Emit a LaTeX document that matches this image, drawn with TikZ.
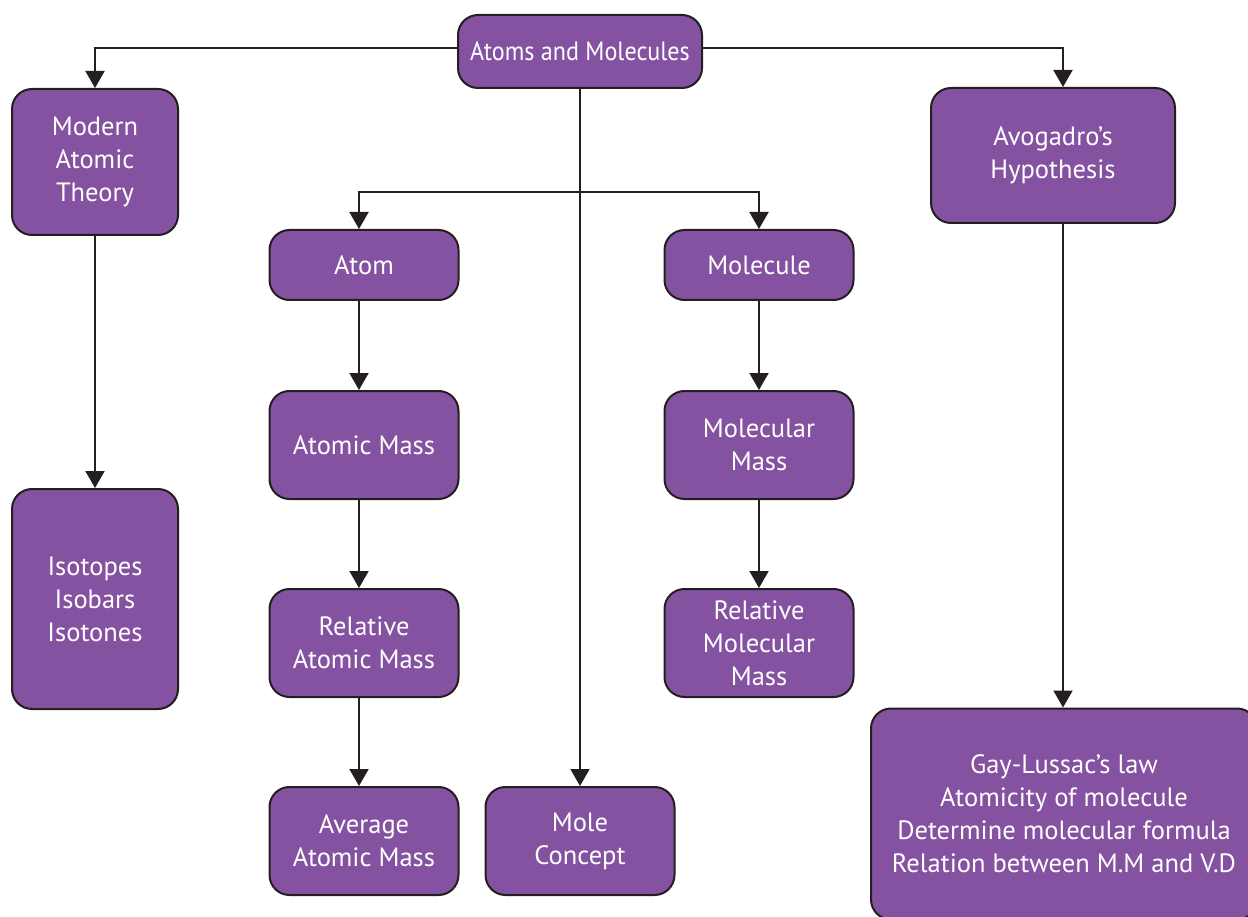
\documentclass[tikz,border=0pt]{standalone}
\usepackage{fontspec}
\usepackage{graphicx}
\setmainfont{PT Sans}
\usetikzlibrary{arrows.meta}
\definecolor{boxfill}{RGB}{133,82,161}
\definecolor{ink}{RGB}{35,31,32}
\begin{document}
\begin{tikzpicture}[x=1pt,y=-1pt,
  box/.style={draw=ink, line width=2pt, fill=boxfill, rounded corners=20pt,
    text=white, align=center, inner sep=0pt,
    font=\fontsize{26.5}{33}\selectfont},
  arr/.style={draw=ink, line width=2pt, -{Triangle[width=19pt,length=17pt]}}]
\useasboundingbox (0,0) rectangle (1248,917);
\begin{scope}
\clip (0,0) rectangle (1248,917);
\node[box, minimum width=244pt, minimum height=73pt] (top) at (580,51.5) {\scalebox{0.91}[1]{Atoms and Molecules}};
\node[box, minimum width=166pt, minimum height=146pt] (mat) at (95,162) {Modern\\Atomic\\Theory};
\node[box, minimum width=166pt, minimum height=220pt] (iso) at (95,599) {Isotopes\\Isobars\\Isotones};
\node[box, minimum width=244pt, minimum height=135pt] (avo) at (1053,155.5) {Avogadro’s\\Hypothesis};
\node[box, minimum width=386pt, minimum height=211pt] (gay) at (1064,814) {Gay-Lussac’s law\\Atomicity of molecule\\Determine molecular formula\\Relation between M.M and V.D};
\node[box, minimum width=189pt, minimum height=70pt] (atom) at (364,265) {Atom};
\node[box, minimum width=189pt, minimum height=108pt] (am) at (364,445) {Atomic Mass};
\node[box, minimum width=189pt, minimum height=108pt] (ram) at (364,643) {Relative\\Atomic Mass};
\node[box, minimum width=189pt, minimum height=108pt] (aam) at (364,841) {Average\\Atomic Mass};
\node[box, minimum width=189pt, minimum height=108pt] (mole) at (580,841) {Mole\\Concept};
\node[box, minimum width=189pt, minimum height=70pt] (mol) at (759,265) {Molecule};
\node[box, minimum width=189pt, minimum height=108pt] (mm) at (759,445) {Molecular\\Mass};
\node[box, minimum width=189pt, minimum height=108pt] (rmm) at (759,643) {Relative\\Molecular\\Mass};
\end{scope}
\coordinate (br) at (top.south |- 0,192);
\draw[arr] ([yshift=3pt]top.west) -| (mat.north);
\draw[arr] ([yshift=3pt]top.east) -| ([xshift=10pt]avo.north);
\draw[arr] (top.south) -- (mole.north);
\draw[arr] (br) -| ([xshift=-5pt]atom.north);
\draw[arr] (br) -| (mol.north);
\draw[arr] (mat.south) -- (iso.north);
\draw[arr] ([xshift=10pt]avo.south) -- ([xshift=10pt]avo.south |- gay.north);
\draw[arr] ([xshift=-5pt]atom.south) -- ([xshift=-5pt]am.north);
\draw[arr] ([xshift=-5pt]am.south) -- ([xshift=-5pt]ram.north);
\draw[arr] ([xshift=-5pt]ram.south) -- ([xshift=-5pt]aam.north);
\draw[arr] (mol.south) -- (mm.north);
\draw[arr] (mm.south) -- (rmm.north);
\end{tikzpicture}
\end{document}
